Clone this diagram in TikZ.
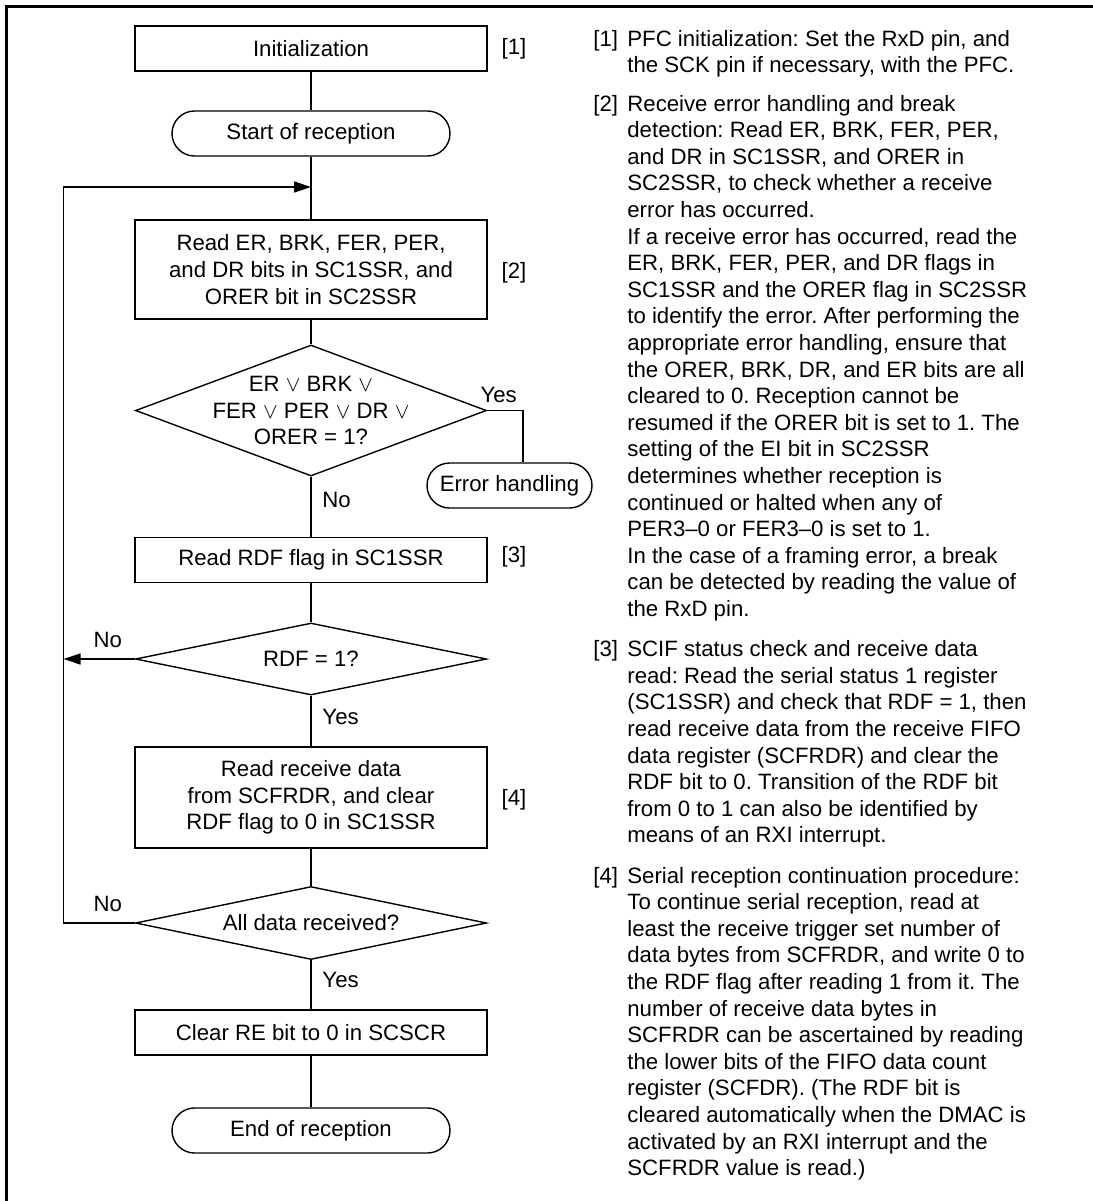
\documentclass[tikz,border=0pt]{standalone}
\usepackage{fontspec}
\setmainfont{Liberation Sans}
\usetikzlibrary{shapes.geometric, arrows.meta, calc}

\begin{document}
\begin{tikzpicture}[x=0.5pt, y=-0.5pt,
  font=\fontsize{11.1pt}{13.3pt}\selectfont\frenchspacing,
  process/.style={draw, line width=0.7pt, rectangle, minimum width=176pt, minimum height=22.5pt, inner sep=0pt, align=center},
  terminal/.style={draw, line width=0.7pt, rectangle, rounded corners=11.25pt, minimum height=22.5pt, inner sep=0pt},
  decision/.style={draw, line width=0.7pt, diamond, minimum width=175.5pt, inner sep=0pt},
  flow/.style={line width=0.8pt},
  >={Triangle[length=8.5pt, width=5.5pt]},
  tag/.style={anchor=base west, inner sep=0pt},
  note/.style={anchor=base west, inner sep=0pt, align=left}]

  \useasboundingbox (0,0) rectangle (1093,1201);

  % Frame (left and top edges only)
  \draw[line width=1.5pt] (6.5,1201) -- (6.5,6.5) -- (1093,6.5);

  % Flowchart steps
  \node[process] (init) at (311,48.5) {Initialization};
  \node[terminal, minimum width=139pt] (start) at (311,133.5) {Start of reception};
  \node[process, minimum height=49.5pt] (readerr) at (311,269.5) {Read ER, BRK, FER, PER,\\and DR bits in SC1SSR, and\\ORER bit in SC2SSR};
  \node[decision, minimum height=65.5pt, label={[align=center]center:ER $\vee$ BRK $\vee$\\FER $\vee$ PER $\vee$ DR $\vee$\\ORER = 1?}] (chkerr) at (311,410.5) {};
  \node[terminal, minimum width=82.5pt] (errh) at (509.5,485.5) {Error handling};
  \node[process] (readrdf) at (311,560) {Read RDF flag in SC1SSR};
  \node[decision, minimum height=36pt, label={center:RDF = 1?}] (chkrdf) at (311,659) {};
  \node[process, minimum height=50.5pt] (readdata) at (311,797.5) {Read receive data\\from SCFRDR, and clear\\RDF flag to 0 in SC1SSR};
  \node[decision, minimum height=36.5pt, label={center:All data received?}] (chkall) at (311,923) {};
  \node[process] (clearre) at (311,1032.5) {Clear RE bit to 0 in SCSCR};
  \node[terminal, minimum width=139pt] (finish) at (311,1130.5) {End of reception};

  % Step numbers
  \node (s1) at (514,48.5) {[1]};
  \node (s2) at (514,273) {[2]};
  \node (s3) at (514,557) {[3]};
  \node (s4) at (514,800) {[4]};

  % Loop points
  \coordinate (merge) at (311,187);
  \coordinate (loopL) at (63.6,187);

  % Connectors
  \draw[flow] (init) -- (start);
  \draw[flow] (start) -- (readerr);
  \draw[flow] (readerr) -- (chkerr);
  \draw[flow] (chkerr.south) -- node[pos=0.38, right=2pt] {No} (readrdf.north);
  \draw[flow] (chkerr.east) node[above, xshift=5.75pt] {Yes} -| ($(errh.north)+(13.5,0)$);
  \draw[flow] (readrdf) -- (chkrdf);
  \draw[flow, ->] (chkrdf.west) -- node[pos=0.38, above=2pt] {No} (chkrdf.west -| loopL);
  \draw[flow] (chkrdf.south) -- node[pos=0.42, right=2pt] {Yes} (readdata.north);
  \draw[flow] (readdata) -- (chkall);
  \draw[flow, ->] (chkall.west) -- node[pos=0.38, above=2pt] {No} (chkall.west -| loopL) -- (loopL) -- (merge);
  \draw[flow] (chkall.south) -- node[pos=0.41, right=2pt] {Yes} (clearre.north);
  \draw[flow] (clearre) -- (finish);

  % Notes (anchored at the baseline of their last line)
  \node[tag] (n1) at (593,46) {[1]};
  \node[note] (p1) at (627,72.6) {PFC initialization: Set the RxD pin, and\\the SCK pin if necessary, with the PFC.};
  \node[tag] (n2) at (593,111) {[2]};
  \node[note] (p2) at (627,616.4) {Receive error handling and break\\detection: Read ER, BRK, FER, PER,\\and DR in SC1SSR, and ORER in\\SC2SSR, to check whether a receive\\error has occurred.\\If a receive error has occurred, read the\\ER, BRK, FER, PER, and DR flags in\\SC1SSR and the ORER flag in SC2SSR\\to identify the error. After performing the\\appropriate error handling, ensure that\\the ORER, BRK, DR, and ER bits are all\\cleared to 0. Reception cannot be\\resumed if the ORER bit is set to 1. The\\setting of the EI bit in SC2SSR\\determines whether reception is\\continued or halted when any of\\PER3--0 or FER3--0 is set to 1.\\In the case of a framing error, a break\\can be detected by reading the value of\\the RxD pin.};
  \node[tag] (n3) at (593,656.7) {[3]};
  \node[note] (p3) at (627,842.9) {SCIF status check and receive data\\read: Read the serial status 1 register\\(SC1SSR) and check that RDF = 1, then\\read receive data from the receive FIFO\\data register (SCFRDR) and clear the\\RDF bit to 0. Transition of the RDF bit\\from 0 to 1 can also be identified by\\means of an RXI interrupt.};
  \node[tag] (n4) at (593,883) {[4]};
  \node[note] (p4) at (627,1175.6) {Serial reception continuation procedure:\\To continue serial reception, read at\\least the receive trigger set number of\\data bytes from SCFRDR, and write 0 to\\the RDF flag after reading 1 from it. The\\number of receive data bytes in\\SCFRDR can be ascertained by reading\\the lower bits of the FIFO data count\\register (SCFDR). (The RDF bit is\\cleared automatically when the DMAC is\\activated by an RXI interrupt and the\\SCFRDR value is read.)};

\end{tikzpicture}
\end{document}
